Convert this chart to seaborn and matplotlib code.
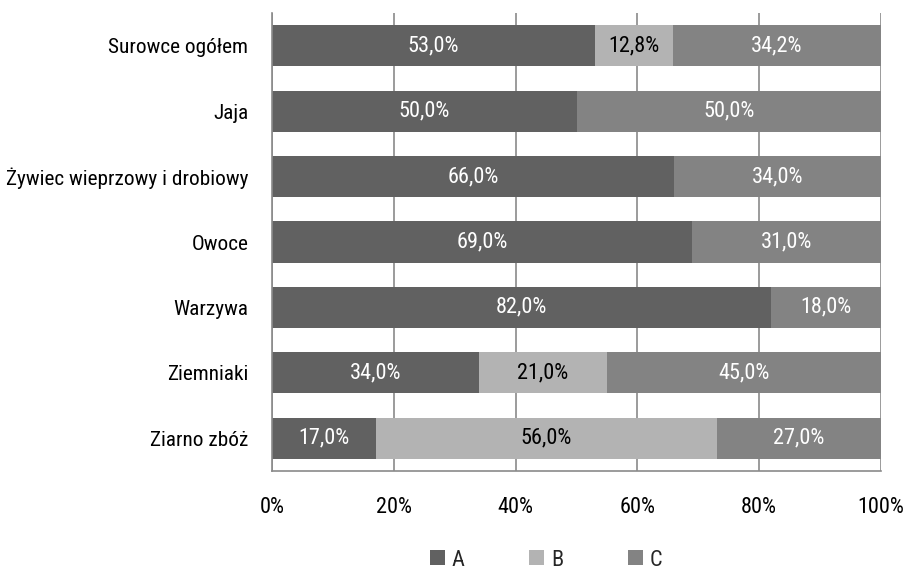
import numpy as np
import pandas as pd
import matplotlib
matplotlib.use("Agg")
import matplotlib.pyplot as plt
from matplotlib import font_manager as fm
from matplotlib.patches import Patch
from matplotlib.ticker import FixedLocator
import seaborn as sns

categories = ["Surowce ogółem", "Jaja", "Żywiec wieprzowy i drobiowy", "Owoce",
              "Warzywa", "Ziemniaki", "Ziarno zbóż"]
series_names = ["A", "B", "C"]
values_a = [53.0, 50.0, 66.0, 69.0, 82.0, 34.0, 17.0]
values_b = [12.8, 0.0, 0.0, 0.0, 0.0, 21.0, 56.0]
values_c = [34.2, 50.0, 34.0, 31.0, 18.0, 45.0, 27.0]
x_ticks = [0, 20, 40, 60, 80, 100]
x_tick_labels = ["0%", "20%", "40%", "60%", "80%", "100%"]

col_a = "#616161"
col_b = "#b3b3b3"
col_c = "#838383"
grid_col = "#8a8a8a"

sns.set_theme(style="white")
names = {f.name for f in fm.fontManager.ttflist}
fam = "Liberation Sans"
for cand in ["Liberation Sans Narrow", "Roboto Condensed", "Open Sans Condensed", "Liberation Sans"]:
    if cand in names:
        fam = cand
        break
plt.rcParams["font.family"] = [fam, "DejaVu Sans"]
FS = 16
FS_Y = 15.3

fig = plt.figure(figsize=(9.06, 5.73), dpi=100)
ax = fig.add_axes([272 / 906, 1 - 471 / 573, (881 - 272) / 906, (471 - 13) / 573])

df = pd.DataFrame({"cat": categories, "A": values_a, "B": values_b, "C": values_c})
df["AB"] = df["A"] + df["B"]
df["ABC"] = df["AB"] + df["C"]

W = 0.63
sns.barplot(data=df, x="ABC", y="cat", orient="h", color=col_c, width=W,
            saturation=1, ax=ax, linewidth=0, zorder=2)
sns.barplot(data=df, x="AB", y="cat", orient="h", color=col_b, width=W,
            saturation=1, ax=ax, linewidth=0, zorder=2)
sns.barplot(data=df, x="A", y="cat", orient="h", color=col_a, width=W,
            saturation=1, ax=ax, linewidth=0, zorder=2)

# segment labels
for i in range(len(categories)):
    left = 0.0
    for v, tc in ((values_a[i], "white"), (values_b[i], "black"), (values_c[i], "white")):
        if v > 0:
            ax.text(left + v / 2, i, f"{v:.1f}%".replace(".", ","), ha="center",
                    va="center", color=tc, fontsize=FS, zorder=5)
        left += v

ax.set_xlim(0, 100)
ax.set_ylim(len(categories) - 0.5, -0.5)
ax.set_xticks(x_ticks)
ax.set_xticklabels(x_tick_labels, fontsize=FS)
ax.set_xlabel("")
ax.set_ylabel("")
ax.tick_params(axis="y", which="major", length=0, pad=17, labelsize=FS_Y, labelcolor="black")
ax.yaxis.set_minor_locator(FixedLocator(np.arange(-0.5, len(categories), 1.0)))
ax.tick_params(axis="y", which="minor", length=8, width=1.2, color=grid_col, direction="out")
ax.tick_params(axis="x", which="major", length=7, width=1.2, color=grid_col, pad=12,
               labelcolor="black")

for s in ["top", "right"]:
    ax.spines[s].set_visible(False)
for s in ["left", "bottom"]:
    ax.spines[s].set_color(grid_col)
    ax.spines[s].set_linewidth(1.2)

ax.xaxis.grid(True, color=grid_col, linewidth=1.2)
ax.yaxis.grid(False)
ax.set_axisbelow(True)

handles = [Patch(facecolor=c, edgecolor="none") for c in (col_a, col_b, col_c)]
fig.legend(handles, series_names, loc="center", bbox_to_anchor=(546 / 906, 1 - 560 / 573),
           ncol=3, frameon=False, fontsize=FS, handlelength=0.68, handleheight=0.68,
           handletextpad=0.3, columnspacing=2.9, borderpad=0)

fig.savefig("out.png", dpi=100)
